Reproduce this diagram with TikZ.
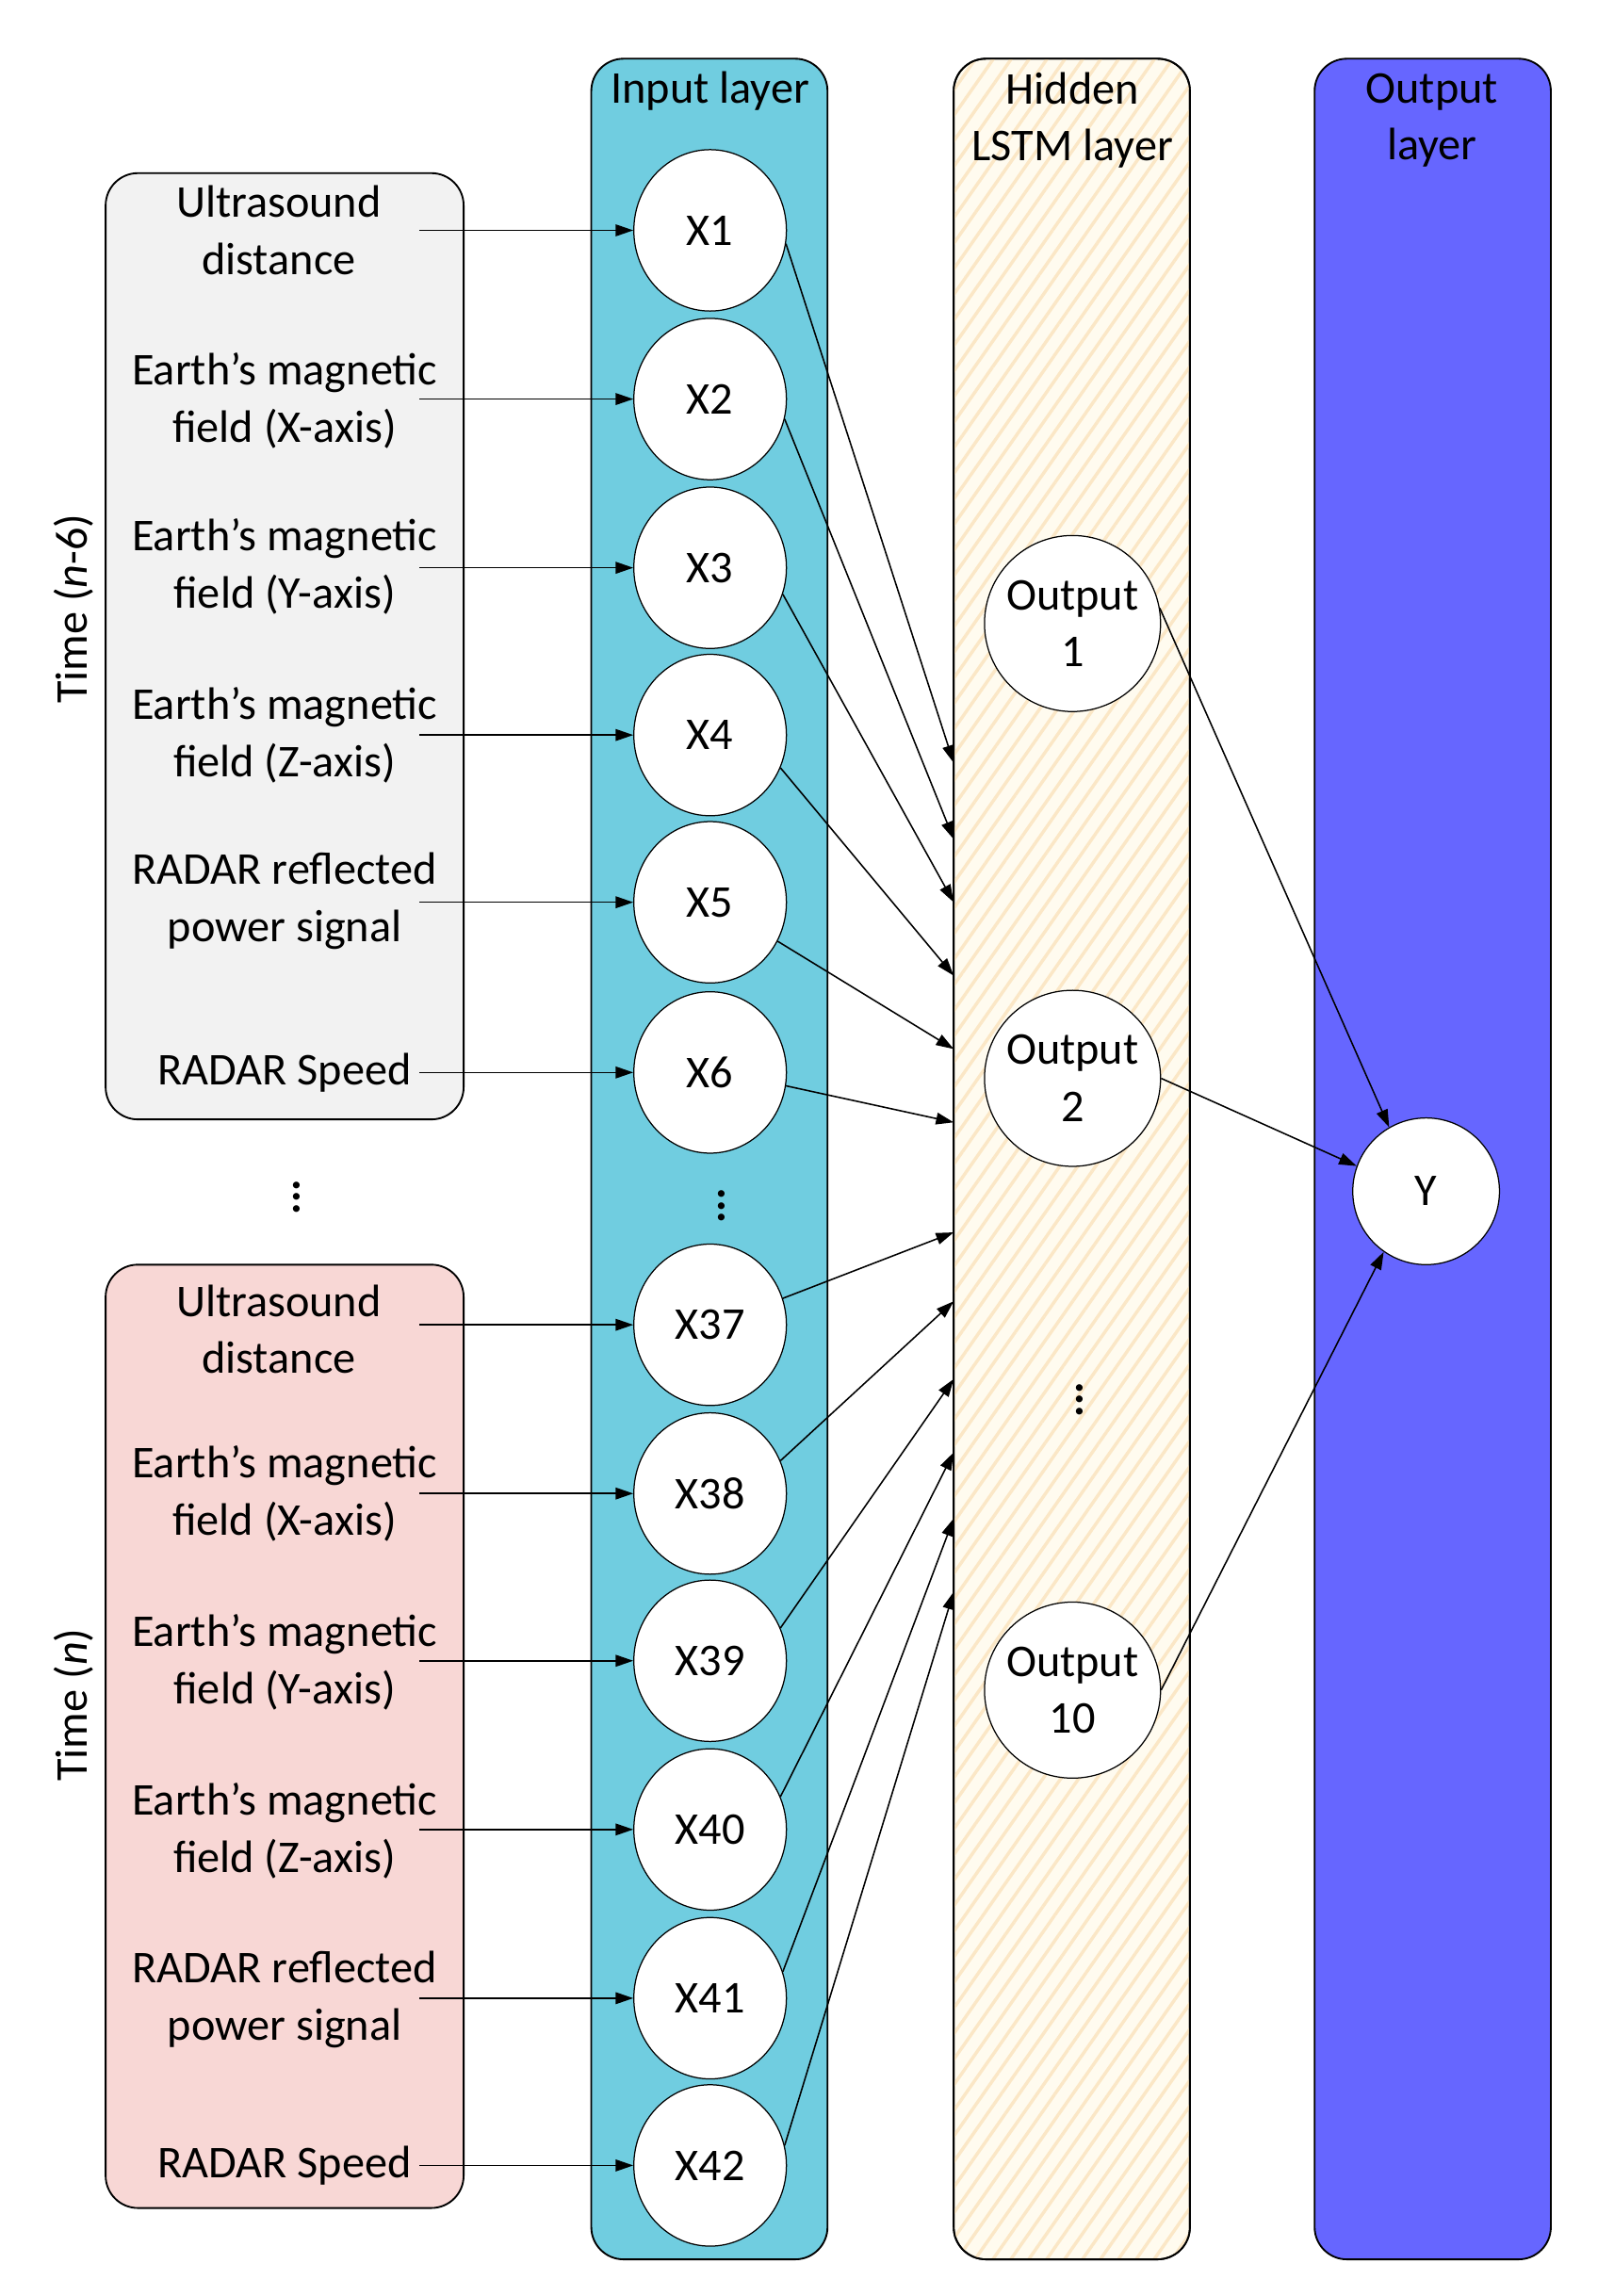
\documentclass[tikz,border=0pt]{standalone}
\usepackage{fontspec}
\setmainfont{Carlito}
\usetikzlibrary{shapes.geometric,arrows.meta,patterns.meta}
\definecolor{incol}{HTML}{70CDE0}
\definecolor{outcol}{HTML}{6666FF}
\definecolor{graybox}{HTML}{F2F2F2}
\definecolor{pinkbox}{HTML}{F8D7D5}
\definecolor{hidfill}{HTML}{FFFBEF}
\definecolor{hatch}{HTML}{FBE7C6}
\begin{document}
\begin{tikzpicture}[x=0.5pt,y=-0.5pt,
  txt/.style={font=\fontsize{15.5}{19.5}\selectfont},
  lab/.style={txt,align=center},
  inn/.style={ellipse,draw,fill=white,minimum width=52pt,minimum height=55pt,inner sep=0pt,txt},
  hid/.style={circle,draw,fill=white,minimum size=60pt,inner sep=0pt,txt,align=center},
  arr/.style={-{Triangle[length=6pt,width=4pt]},line width=0.5pt},
  col/.style={draw,rounded corners=11pt,line width=0.6pt}]
\useasboundingbox (0,0) rectangle (1100,1565);
% columns
\fill[col,fill=incol] (403,40) rectangle (564,1540);
\fill[col,fill=hidfill] (650,40) rectangle (811,1540);
\fill[rounded corners=11pt,pattern={Lines[angle=55,distance=5pt,line width=1.1pt]},pattern color=hatch] (650,40) rectangle (811,1540);
\draw[col] (650,40) rectangle (811,1540);
\fill[col,fill=outcol] (896,40) rectangle (1057,1540);
\node[txt] (tin) at (484,62) {Input layer};
\node[lab] (thid) at (731,82) {Hidden\\LSTM layer};
\node[lab] (tout) at (976,82) {Output\\layer};
% boxes
\filldraw[col,fill=graybox] (72,118) rectangle (316,763);
\filldraw[col,fill=pinkbox] (72,862) rectangle (316,1505);
\node[txt,rotate=90] (t1) at (50,415) {Time (\textit{n}-6)};
\node[txt,rotate=90] (t2) at (50,1162) {Time (\textit{n})};
% labels
\node[lab] (l1) at (190,157) {Ultrasound\\distance};
\node[lab] (l2) at (194,273) {Earth’s magnetic\\field (X-axis)};
\node[lab] (l3) at (194,386) {Earth’s magnetic\\field (Y-axis)};
\node[lab] (l4) at (194,501) {Earth’s magnetic\\field (Z-axis)};
\node[lab] (l5) at (194,614) {RADAR reflected\\power signal};
\node[lab] (l6) at (194,731) {RADAR Speed};
\node[lab] (m1) at (190,906) {Ultrasound\\distance};
\node[lab] (m2) at (194,1018) {Earth’s magnetic\\field (X-axis)};
\node[lab] (m3) at (194,1133) {Earth’s magnetic\\field (Y-axis)};
\node[lab] (m4) at (194,1248) {Earth’s magnetic\\field (Z-axis)};
\node[lab] (m5) at (194,1363) {RADAR reflected\\power signal};
\node[lab] (m6) at (194,1476) {RADAR Speed};
\node[txt] (d1) at (202,810) {\textbf{\vdots}};
\node[txt] (d2) at (492,816) {\textbf{\vdots}};
\node[txt] (d3) at (736,948) {\textbf{\vdots}};
% input nodes
\foreach \n/\y in {1/157,2/272,3/387,4/501,5/615,6/731,37/903,38/1018,39/1132,40/1247,41/1362,42/1476}
  \node[inn] (X\n) at (484,\y) {X\n};
% hidden
\node[hid] (O1) at (731,425) {Output\\1};
\node[hid] (O2) at (731,735) {Output\\2};
\node[hid] (O10) at (731,1152) {Output\\10};
\node[inn,minimum width=50pt,minimum height=50pt] (Y) at (972,812) {Y};
% label arrows
\foreach \n/\y in {1/157,2/272,3/387,4/501,5/615,6/731,37/903,38/1018,39/1132,40/1247,41/1362,42/1476}{
  \coordinate (s\n) at (286,\y);
  \draw[arr] (s\n) -- (X\n.west);
}
% to hidden layer
\foreach \n/\y/\a in {1/520/-10,2/572/-15,3/615/-20,4/665/-25,5/715/-30,6/765/-10,37/840/20,38/887/25,39/940/25,40/990/25,41/1035/20,42/1085/15}{
  \coordinate (h\n) at (650,\y);
  \draw[arr] (X\n.\a) -- (h\n);
}
\draw[arr] (O1.10) -- (Y.120);
\draw[arr] (O2.east) -- (Y.160);
\draw[arr] (O10.east) -- (Y.235);
\end{tikzpicture}
\end{document}
